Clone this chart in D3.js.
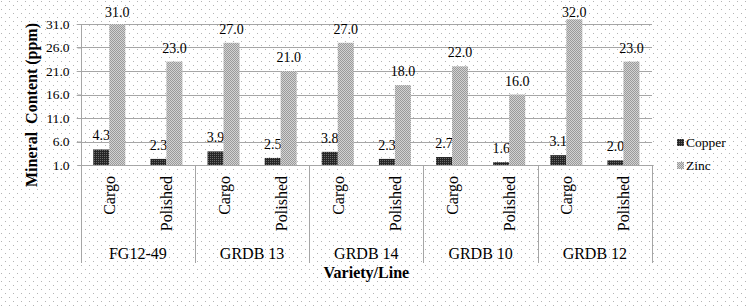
<!DOCTYPE html>
<html>
<head>
<meta charset="utf-8">
<script src="https://cdn.jsdelivr.net/npm/d3@7"></script>
<style>
  body { margin: 0; background: #fff; }
  svg text { font-family: 'Liberation Serif', 'Times New Roman', Times, serif; fill: #000; }
</style>
</head>
<body>
<div id="chart"></div>
<script>
var width = 747,
    height = 307;

// data
var groups = ["FG12-49", "GRDB 13", "GRDB 14", "GRDB 10", "GRDB 12"];
var types = ["Cargo", "Polished"];
var series = ["Copper", "Zinc"];
var copper = [4.3, 2.3, 3.9, 2.5, 3.8, 2.3, 2.7, 1.6, 3.1, 2.0];
var zinc = [31.0, 23.0, 27.0, 21.0, 27.0, 18.0, 22.0, 16.0, 32.0, 23.0];
var yTicks = [1, 6, 11, 16, 21, 26, 31];

var plotLeft = 80.7, plotRight = 652, plotTop = 24, plotBottom = 165;
var serif = "'Liberation Serif', 'Times New Roman', serif";

var svg = d3.select("#chart")
    .append("svg")
    .attr("width", width)
    .attr("height", height)
    .attr("font-family", serif);

var defs = svg.append("defs");

// dotted page background
var bg = defs.append("pattern").attr("id", "bgDots")
    .attr("width", 8).attr("height", 8).attr("patternUnits", "userSpaceOnUse");
bg.append("rect").attr("width", 8).attr("height", 8).attr("fill", "#fff");
bg.append("rect").attr("x", 1).attr("y", 1).attr("width", 1).attr("height", 1).attr("fill", "#b4b4b4");
bg.append("rect").attr("x", 5).attr("y", 5).attr("width", 1).attr("height", 1).attr("fill", "#b4b4b4");

// copper fill: dark with light dots
var pc = defs.append("pattern").attr("id", "copperFill")
    .attr("width", 2).attr("height", 2).attr("patternUnits", "userSpaceOnUse");
pc.append("rect").attr("width", 2).attr("height", 2).attr("fill", "#262626");
pc.append("rect").attr("width", 1).attr("height", 1).attr("fill", "#6a6a6a");

// zinc fill: grey checker
var pz = defs.append("pattern").attr("id", "zincFill")
    .attr("width", 2).attr("height", 2).attr("patternUnits", "userSpaceOnUse");
pz.append("rect").attr("width", 2).attr("height", 2).attr("fill", "#d2d2d2");
pz.append("rect").attr("width", 1).attr("height", 1).attr("fill", "#9a9a9a");
pz.append("rect").attr("x", 1).attr("y", 1).attr("width", 1).attr("height", 1).attr("fill", "#9a9a9a");

svg.append("rect")
    .attr("width", width)
    .attr("height", height)
    .attr("fill", "url(#bgDots)");

var categories = [];
groups.forEach(function (g) {
    types.forEach(function (t) { categories.push(g + "|" + t); });
});

var x = d3.scaleBand()
    .domain(categories)
    .range([plotLeft, plotRight]);

var xg = d3.scaleBand()
    .domain(groups)
    .range([plotLeft, plotRight]);

var y = d3.scaleLinear()
    .domain([1, 31])
    .range([plotBottom, plotTop]);

var barW = 16;

// gridlines
svg.append("g")
    .selectAll("line")
    .data(yTicks.slice(1))
    .enter()
    .append("line")
    .attr("x1", plotLeft - 4)
    .attr("x2", plotRight)
    .attr("y1", function (d) { return Math.round(y(d)) + 0.5; })
    .attr("y2", function (d) { return Math.round(y(d)) + 0.5; })
    .attr("stroke", "#a6a6a6");

// y axis
var yAxis = svg.append("g")
    .attr("transform", "translate(" + (Math.round(plotLeft) + 0.5) + ",0)")
    .call(d3.axisLeft(y).tickValues(yTicks).tickFormat(d3.format(".1f")).tickSize(4).tickPadding(8));
yAxis.attr("font-family", serif).attr("font-size", 13.5);
yAxis.select(".domain").remove();
yAxis.selectAll(".tick line").attr("stroke", "#a6a6a6");
yAxis.selectAll(".tick text").attr("fill", "#000");

// bars
var cols = [{ name: "Copper", vals: copper, fill: "url(#copperFill)", off: -barW },
            { name: "Zinc", vals: zinc, fill: "url(#zincFill)", off: 0 }];

cols.forEach(function (s) {
    svg.append("g")
        .selectAll("rect")
        .data(s.vals)
        .enter()
        .append("rect")
        .attr("x", function (d, i) { return x(categories[i]) + x.bandwidth() / 2 + s.off; })
        .attr("y", function (d) { return y(d); })
        .attr("width", barW)
        .attr("height", function (d) { return y(1) - y(d); })
        .attr("fill", s.fill);

    svg.append("g")
        .selectAll("text")
        .data(s.vals)
        .enter()
        .append("text")
        .attr("x", function (d, i) { return x(categories[i]) + x.bandwidth() / 2 + s.off + barW / 2; })
        .attr("y", function (d) { return Math.max(y(d) - 9, 16.5); })
        .attr("text-anchor", "middle")
        .attr("font-size", 14)
        .text(function (d) { return d.toFixed(1); });
});

// axis lines
svg.append("line")
    .attr("x1", plotLeft).attr("x2", plotRight)
    .attr("y1", plotBottom + 0.5).attr("y2", plotBottom + 0.5)
    .attr("stroke", "#a6a6a6");
svg.append("line")
    .attr("x1", Math.round(plotLeft) + 0.5).attr("x2", Math.round(plotLeft) + 0.5)
    .attr("y1", plotTop).attr("y2", 263)
    .attr("stroke", "#a6a6a6");

// group dividers
svg.append("g")
    .selectAll("line")
    .data(groups)
    .enter()
    .append("line")
    .attr("x1", function (d) { return Math.round(xg(d) + xg.bandwidth()) + 0.5; })
    .attr("x2", function (d) { return Math.round(xg(d) + xg.bandwidth()) + 0.5; })
    .attr("y1", plotBottom)
    .attr("y2", 263)
    .attr("stroke", "#a6a6a6");

// category labels (rotated)
svg.append("g")
    .selectAll("text")
    .data(categories)
    .enter()
    .append("text")
    .attr("transform", function (d) {
        return "translate(" + (x(d) + x.bandwidth() / 2 + 6) + ",176)rotate(-90)";
    })
    .attr("text-anchor", "end")
    .attr("font-size", 16)
    .text(function (d) { return d.split("|")[1]; });

// group labels
svg.append("g")
    .selectAll("text")
    .data(groups)
    .enter()
    .append("text")
    .attr("x", function (d) { return xg(d) + xg.bandwidth() / 2; })
    .attr("y", 259)
    .attr("text-anchor", "middle")
    .attr("font-size", 16)
    .text(function (d) { return d; });

// axis titles
svg.append("text")
    .attr("x", (plotLeft + plotRight) / 2)
    .attr("y", 278)
    .attr("text-anchor", "middle")
    .attr("font-size", 16)
    .attr("font-weight", "bold")
    .text("Variety/Line");

svg.append("text")
    .attr("transform", "translate(37,105)rotate(-90)")
    .attr("text-anchor", "middle")
    .attr("font-size", 16)
    .attr("font-weight", "bold")
    .style("white-space", "pre")
    .text("Mineral  Content (ppm)");

// legend
var legend = svg.append("g")
    .selectAll("g")
    .data(series)
    .enter()
    .append("g")
    .attr("transform", function (d, i) { return "translate(677," + (139 + i * 23) + ")"; });

legend.append("rect")
    .attr("width", 7)
    .attr("height", 7)
    .attr("fill", function (d, i) { return cols[i].fill; });

legend.append("text")
    .attr("x", 9)
    .attr("y", 7.5)
    .attr("font-size", 13.5)
    .text(function (d) { return d; });
</script>
</body>
</html>
